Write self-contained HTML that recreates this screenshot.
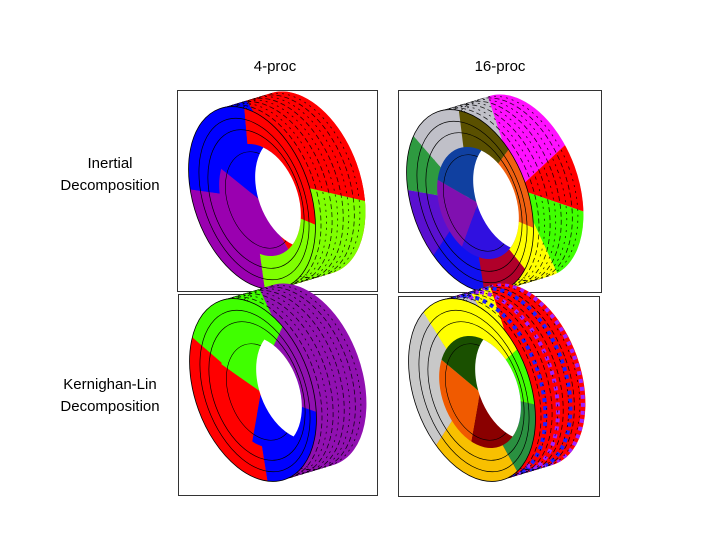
<!DOCTYPE html>
<html><head><meta charset="utf-8">
<style>
html,body{margin:0;padding:0;background:#fff;}
body{width:720px;height:540px;overflow:hidden;position:relative;font-family:"Liberation Sans",sans-serif;}
.t{position:absolute;font-size:15px;color:#000;text-align:center;white-space:nowrap;}
svg{position:absolute;left:0;top:0;}
</style></head>
<body>
<svg id="s" width="720" height="540" viewBox="0 0 720 540" xmlns="http://www.w3.org/2000/svg">
<defs>
<clipPath id="cT" clipPathUnits="userSpaceOnUse"></clipPath>
<clipPath id="cF" clipPathUnits="userSpaceOnUse"><ellipse cx="252" cy="198" rx="58" ry="95" transform="rotate(-20 252 198)"/></clipPath>
<clipPath id="cH" clipPathUnits="userSpaceOnUse"><ellipse cx="260" cy="200" rx="38" ry="58" transform="rotate(-20 260 200)"/></clipPath>
</defs>
<rect x="177.5" y="90.5" width="200" height="201" fill="none" stroke="#333"/>
<rect x="398.5" y="90.5" width="203" height="202" fill="none" stroke="#333"/>
<rect x="178.5" y="294.5" width="199" height="201" fill="none" stroke="#333"/>
<rect x="398.5" y="296.5" width="201" height="200" fill="none" stroke="#333"/>
</svg>
<div class="t" style="left:245px;top:58px;width:60px;">4-proc</div>
<div class="t" style="left:465px;top:58px;width:70px;">16-proc</div>
<div class="t" style="left:40px;top:155px;width:140px;">Inertial</div>
<div class="t" style="left:40px;top:177px;width:140px;">Decomposition</div>
<div class="t" style="left:40px;top:376px;width:140px;">Kernighan-Lin</div>
<div class="t" style="left:40px;top:398px;width:140px;">Decomposition</div>
<script>
var NS="http://www.w3.org/2000/svg",s=document.getElementById("s");
function el(t,a,p){var e=document.createElementNS(NS,t);for(var k in a)e.setAttribute(k,a[k]);(p||s).appendChild(e);return e;}
var DX=50,DY=-15;
function F(f,extra){var cx=252+DX*f,cy=198+DY*f;var a={cx:cx,cy:cy,rx:58,ry:95,transform:"rotate(-20 "+cx+" "+cy+")"};for(var k in extra)a[k]=extra[k];return a;}
var cT=document.getElementById("cT");
for(var i=0;i<=14;i++){el("ellipse",F(i/14,{}),cT);}
function wedges(g,cx,cy,R,segs){segs.forEach(function(sg){var a1=sg[0],a2=sg[1],pts=[cx+","+cy];for(var a=a1;a<a2;a+=3){var r=a*Math.PI/180;pts.push((cx+R*Math.cos(r)).toFixed(1)+","+(cy+R*Math.sin(r)).toFixed(1));}var r2=a2*Math.PI/180;pts.push((cx+R*Math.cos(r2)).toFixed(1)+","+(cy+R*Math.sin(r2)).toFixed(1));el("polygon",{points:pts.join(" "),fill:sg[2]},g);});}
function tire(dx,dy,base,tread,face,inner,stripes){
 var g=el("g",{transform:"translate("+dx+","+dy+")"});
 var gt=el("g",{"clip-path":"url(#cT)"},g);
 el("rect",{x:185,y:88,width:185,height:205,fill:base},gt);
 wedges(gt,300,186,130,tread);
 if(stripes){stripes.forEach(function(st){el("ellipse",F(st[0],{fill:"none",stroke:st[1],"stroke-width":4,"stroke-dasharray":"4 4"}),gt);});}
 for(var k=1;k<9;k++){el("ellipse",F(k/9,{fill:"none",stroke:"#000","stroke-width":0.8,"stroke-dasharray":k%2?"5 3":"2 4",opacity:0.85}),gt);}
 var gf=el("g",{"clip-path":"url(#cF)"},g);
 wedges(gf,252,198,115,face);
 el("ellipse",{cx:254,cy:199,rx:50,ry:84,transform:"rotate(-20 254 199)",fill:"none",stroke:"#000","stroke-width":0.7},gf);
 el("ellipse",{cx:256,cy:199,rx:44,ry:72,transform:"rotate(-20 256 199)",fill:"none",stroke:"#000","stroke-width":0.7},gf);
 var gh=el("g",{"clip-path":"url(#cH)"},g);
 wedges(gh,260,200,80,inner);
 el("ellipse",{cx:260,cy:200,rx:32,ry:50,transform:"rotate(-20 260 200)",fill:"none",stroke:"#000","stroke-width":0.6},gh);
 el("ellipse",{cx:296,cy:192,rx:38,ry:58,transform:"rotate(-20 296 192)",fill:"#fff"},gh);
 el("ellipse",F(0,{fill:"none",stroke:"#000","stroke-width":0.8}),g);
}
// TL
tire(0,0,"#ff0000",[[150,238,"#0000ff"],[238,373,"#ff0000"],[13,150,"#7fff00"]],
 [[-95,23,"#ff0000"],[23,82,"#7fff00"],[82,188,"#9a00b0"],[188,265,"#0000ff"]],
 [[60,219,"#9a00b0"],[219,290,"#0000ff"],[290,420,"#ff0000"]]);
// TR
tire(218,3,"#c8c8d0",[[100,160,"#b0002a"],[160,252,"#c0c0c8"],[252,317,"#ff10ff"],[317,379,"#ff0000"],[19,65,"#40ff00"],[65,100,"#ffff00"]],
 [[23,51,"#ffff00"],[51,81,"#b0002a"],[81,124,"#1010f0"],[124,190,"#5a10d0"],[190,229,"#2e9a40"],[229,263,"#c0c0c8"],[263,307,"#5a5000"],[307,383,"#f06010"]],
 [[110,210,"#8010b0"],[210,280,"#1040a0"],[40,110,"#3010e0"],[280,400,"#f06010"]]);
// BL
tire(1,192,"#9010b0",[[130,215,"#ff0000"],[215,245,"#40ff00"]],
 [[19,81,"#0000ff"],[81,221,"#ff0000"],[221,295,"#40ff00"],[295,379,"#9010b0"]],
 [[100,215,"#ff0000"],[215,330,"#40ff00"],[330,460,"#0000ff"]]);
// BR
tire(220,192,"#ff0000",[[160,240,"#c0c0c8"],[240,252,"#ffff00"]],
 [[13,61,"#2a9040"],[61,123,"#f8c000"],[123,238,"#c8c8c8"],[238,318,"#ffff00"],[318,373,"#40ff00"]],
 [[40,100,"#8a0000"],[100,220,"#f05a00"],[220,330,"#1a5000"],[330,400,"#0000ff"]],
 [[0.2,"#2020ff"],[0.45,"#a020ff"],[0.7,"#2020ff"],[0.95,"#a020ff"]]);
</script>
</body></html>
